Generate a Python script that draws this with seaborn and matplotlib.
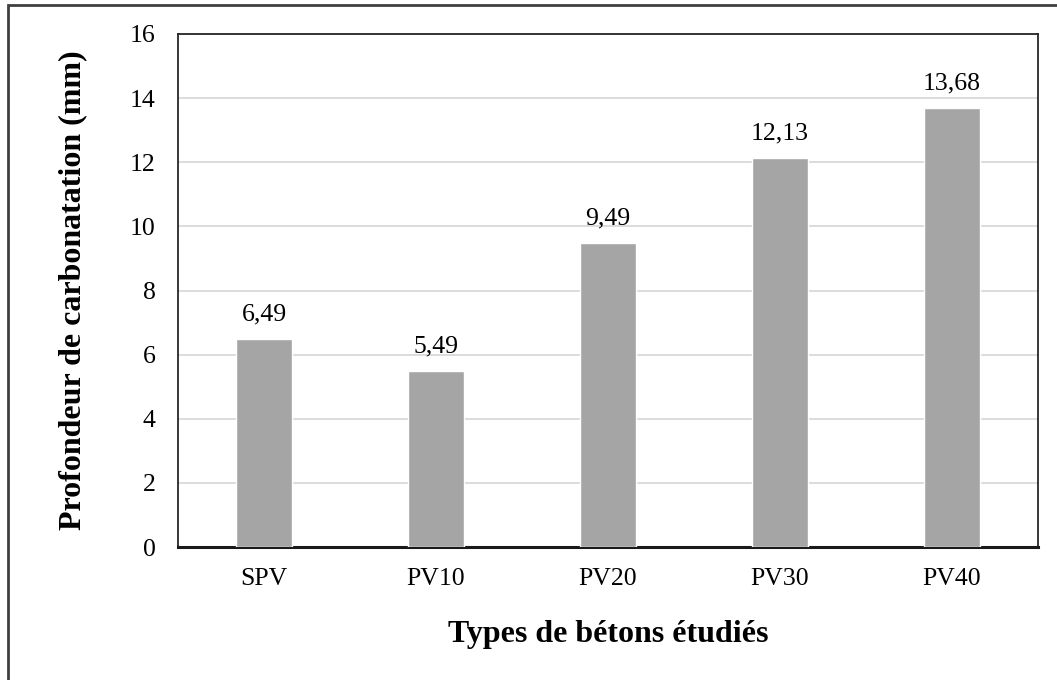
import matplotlib
matplotlib.use("Agg")
import matplotlib.pyplot as plt
from matplotlib.patches import Rectangle
import seaborn as sns
import pandas as pd

# Carbonation depth per concrete type
types = ["SPV", "PV10", "PV20", "PV30", "PV40"]
depths = [6.49, 5.49, 9.49, 12.13, 13.68]
y_ticks = [0, 2, 4, 6, 8, 10, 12, 14, 16]

df = pd.DataFrame({"type": types, "depth": depths})

sns.set_theme(style="white")
plt.rcParams["font.family"] = ["Liberation Serif", "DejaVu Serif"]

fig = plt.figure(figsize=(10.57, 6.8), dpi=100)
ax = fig.add_axes([178 / 1057, 133 / 680, 860 / 1057, 513 / 680])

sns.barplot(data=df, x="type", y="depth", color="#A5A5A5", saturation=1,
            width=0.33, ax=ax, zorder=3)

ax.set_ylim(0, 16)
ax.set_yticks(y_ticks)
ax.set_yticklabels([str(t) for t in y_ticks])
ax.grid(axis="y", color="#D9D9D9", linewidth=1.3, zorder=0)
ax.set_axisbelow(True)
ax.tick_params(axis="both", length=0, labelsize=18.5, colors="black")
ax.tick_params(axis="y", pad=16)
ax.tick_params(axis="x", pad=15)

for side in ["left", "top", "right"]:
    ax.spines[side].set_color("#262626")
    ax.spines[side].set_linewidth(1.3)
ax.spines["bottom"].set_color("#1a1a1a")
ax.spines["bottom"].set_linewidth(2.2)

# Value labels with decimal comma
for i, v in enumerate(depths):
    ax.text(i, v + 0.42, f"{v:.2f}".replace(".", ","), ha="center", va="bottom",
            fontsize=18.5, color="black")

ax.set_xlabel("Types de bétons étudiés", fontsize=23, fontweight="bold",
              labelpad=22, color="black")
ax.set_ylabel("Profondeur de carbonatation (mm)", fontsize=23,
              fontweight="bold", labelpad=31, color="black")

# Outer chart border
fig.patches.append(Rectangle((8 / 1057, -0.1), 1.2, (675 / 680) + 0.1,
                             transform=fig.transFigure, fill=False,
                             edgecolor="#404040", linewidth=2, zorder=0))

fig.savefig("out.png", dpi=100, facecolor="white")
